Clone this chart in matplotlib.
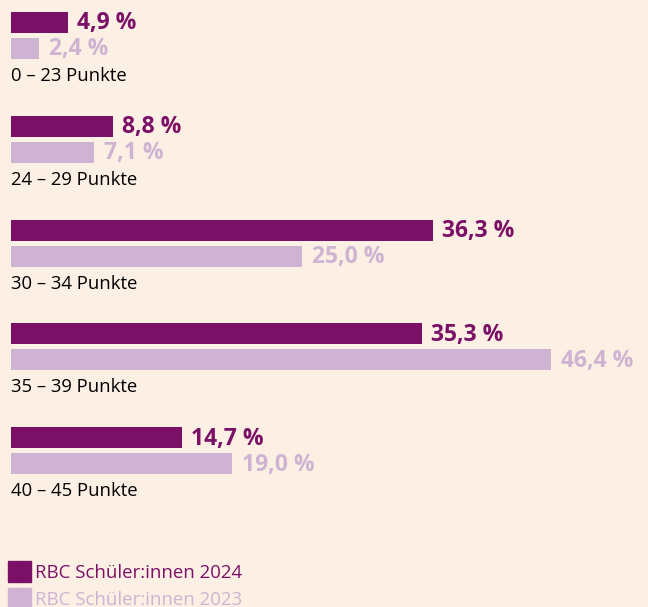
import matplotlib.pyplot as plt
from matplotlib.patches import Rectangle

plt.rcParams['font.family'] = ['Open Sans', 'DejaVu Sans']

# Data
categories = ['0 – 23 Punkte', '24 – 29 Punkte', '30 – 34 Punkte', '35 – 39 Punkte', '40 – 45 Punkte']
vals_2024 = [4.9, 8.8, 36.3, 35.3, 14.7]
vals_2023 = [2.4, 7.1, 25.0, 46.4, 19.0]
series_names = ['RBC Schüler:innen 2024', 'RBC Schüler:innen 2023']

bg = '#fcefe3'
dark = '#7b1067'
light = '#cfb3d2'

fig = plt.figure(figsize=(6.48, 6.07), dpi=100, facecolor=bg)
ax = fig.add_axes([0, 0, 1, 1])
ax.set_facecolor(bg)

# x in percent, y in pixel rows (inverted)
px = 540 / 46.4
ax.set_xlim(-11 / px, (648 - 11) / px)
ax.set_ylim(607, 0)
ax.axis('off')

step = 103.8
h = 21
for i, cat in enumerate(categories):
    y0 = 12 + i * step
    y1 = y0 + 26
    ax.barh(y0 + h / 2, vals_2024[i], height=h, left=0, color=dark)
    ax.barh(y1 + h / 2, vals_2023[i], height=h, left=0, color=light)
    ax.text(vals_2024[i] + 9 / px, y0 + h / 2 + 1, f'{vals_2024[i]:.1f} %'.replace('.', ','),
            color=dark, fontsize=16.5, fontweight='bold', va='center', ha='left')
    ax.text(vals_2023[i] + 10 / px, y1 + h / 2 + 1, f'{vals_2023[i]:.1f} %'.replace('.', ','),
            color=light, fontsize=16.5, fontweight='bold', va='center', ha='left')
    ax.text(0, y1 + h + 17, cat, color='black', fontsize=13.3, va='center', ha='left')

# legend
for j, (name, c) in enumerate(zip(series_names, [dark, light])):
    ly = 561 + j * 27
    ax.add_patch(Rectangle((-3 / px, ly), 23 / px, 21, color=c, clip_on=False))
    ax.text(24 / px, ly + 12, name, color=c, fontsize=13.4, va='center', ha='left')

fig.savefig('out.png', dpi=100, facecolor=bg)
